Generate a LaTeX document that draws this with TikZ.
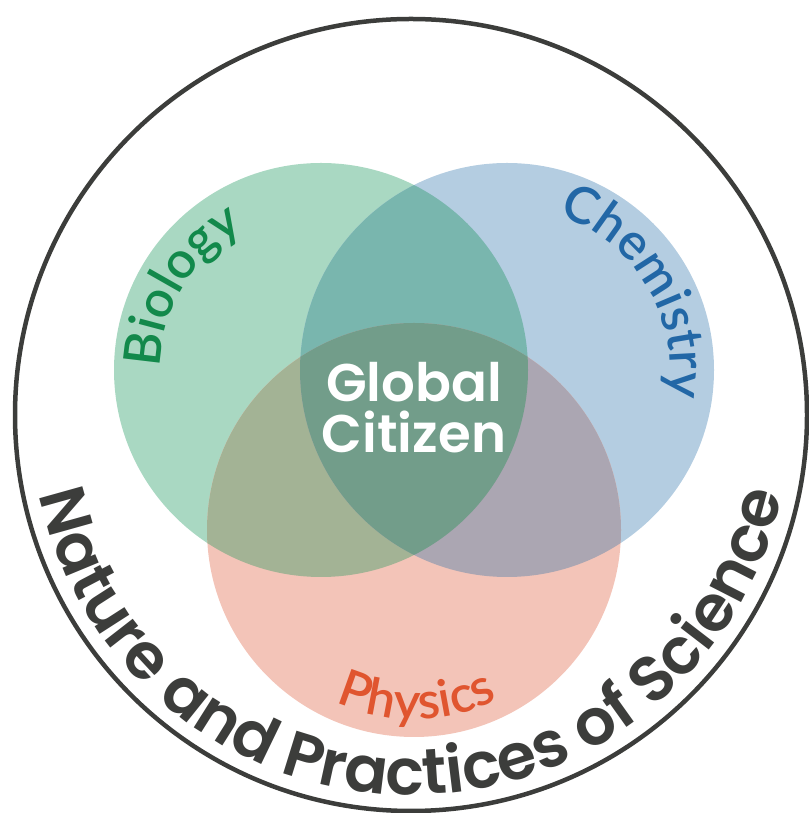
\documentclass[tikz,border=0pt]{standalone}
\usepackage{fontspec}
\usetikzlibrary{decorations.text}
\newfontfamily\popsemi{Poppins SemiBold}
\newfontfamily\latofont{Lato Semibold}
\definecolor{gfillc}{HTML}{A9D8C2}
\definecolor{bfillc}{HTML}{B4CDE1}
\definecolor{rfillc}{HTML}{F3C4B8}
\definecolor{gbfillc}{HTML}{79B6AE}
\definecolor{grfillc}{HTML}{A3B395}
\definecolor{brfillc}{HTML}{ABA6B2}
\definecolor{allfillc}{HTML}{729D8A}
\definecolor{biotext}{HTML}{12894B}
\definecolor{chemtext}{HTML}{2267A6}
\definecolor{phystext}{HTML}{E0552F}
\definecolor{outerc}{HTML}{3C3D3B}
\newcommand{\labfont}{\latofont\fontsize{51}{60}\selectfont}
\newcommand{\natfont}{\popsemi\fontsize{64}{70}\selectfont}
\begin{document}
\begin{tikzpicture}[x=1pt,y=1pt,
  arctext/.style={decorate,decoration={text along path,text align=center,#1}}]
\useasboundingbox (0,0) rectangle (808,813);
\coordinate (oc) at (411,398);
\coordinate (gc) at (321,443);
\coordinate (bc) at (507,443);
\coordinate (rc) at (414,283);
% circles
\fill[gfillc] (gc) circle (207);
\fill[bfillc] (bc) circle (207);
\fill[rfillc] (rc) circle (207);
\begin{scope}\clip (gc) circle (207);\fill[gbfillc] (bc) circle (207);\end{scope}
\begin{scope}\clip (gc) circle (207);\fill[grfillc] (rc) circle (207);\end{scope}
\begin{scope}\clip (bc) circle (207);\fill[brfillc] (rc) circle (207);\end{scope}
\begin{scope}\clip (gc) circle (207);\clip (bc) circle (207);\fill[allfillc] (rc) circle (207);\end{scope}
% outer ring
\draw[outerc,line width=4.5] (oc) circle (396);
% labels along arcs
\path[arctext={text={|\labfont|Biology},text color=biotext}]
  ([shift={(209:161)}]gc) arc[start angle=209,end angle=89,radius=161];
\path[arctext={text={|\labfont|Chemistry},text color=chemtext}]
  ([shift={(93:163)}]bc) arc[start angle=93,end angle=-31,radius=163];
\path[arctext={text={|\labfont|Physics},text color=phystext}]
  ([shift={(211:189)}]rc) arc[start angle=211,end angle=331,radius=189];
\path[arctext={text={|\natfont|Nature and Practices of Science},text color=outerc}]
  ([shift={(180:380)}]oc) arc[start angle=180,end angle=360,radius=380];
\node[text=white,align=center,font=\popsemi\fontsize{53}{51}\selectfont] (gcit) at (414,405) {Global\\Citizen};
\end{tikzpicture}
\end{document}
